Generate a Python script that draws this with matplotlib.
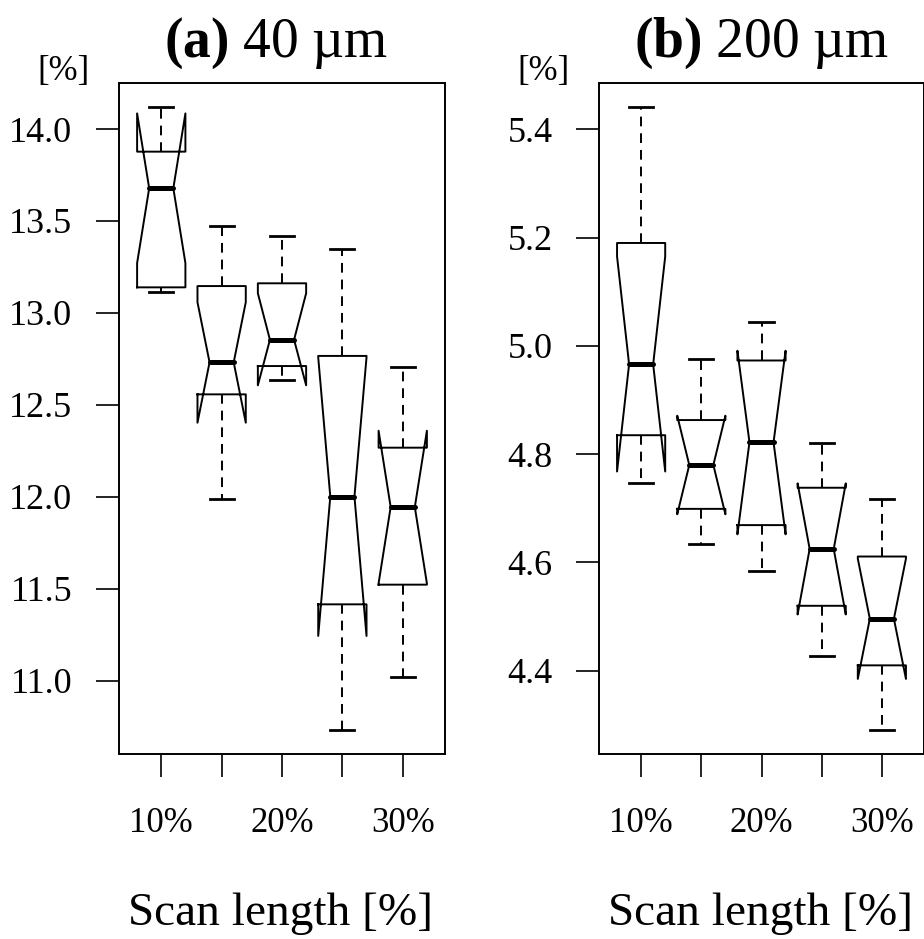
import matplotlib
matplotlib.use("Agg")
import matplotlib.pyplot as plt

plt.rcParams['font.family'] = ['Liberation Serif', 'DejaVu Serif']
plt.rcParams['mathtext.fontset'] = 'custom'
plt.rcParams['mathtext.rm'] = 'Liberation Serif'
plt.rcParams['mathtext.bf'] = 'Liberation Serif:bold'
plt.rcParams['lines.scale_dashes'] = False

# ---- data ----
positions = [1, 2, 3, 4, 5]
xtick_labels = ["10%", "", "20%", "", "30%"]

# panel (a) 40 um
a_whishi = [14.118, 13.474, 13.418, 13.349, 12.704]
a_q3 = [13.877, 13.146, 13.161, 12.766, 12.267]
a_med = [13.678, 12.731, 12.854, 12.001, 11.944]
a_q1 = [13.139, 12.557, 12.711, 11.415, 11.522]
a_whislo = [13.114, 11.990, 12.635, 10.733, 11.020]
a_cihi = [14.085, 13.058, 13.107, 12.758, 12.359]
a_cilo = [13.271, 12.403, 12.606, 11.243, 11.529]
a_yticks = [11.0, 11.5, 12.0, 12.5, 13.0, 13.5, 14.0]

# panel (b) 200 um
b_whishi = [5.441, 4.976, 5.045, 4.820, 4.717]
b_q3 = [5.190, 4.863, 4.973, 4.738, 4.611]
b_med = [4.966, 4.780, 4.822, 4.625, 4.496]
b_q1 = [4.835, 4.699, 4.669, 4.520, 4.410]
b_whislo = [4.746, 4.634, 4.585, 4.427, 4.291]
b_cihi = [5.165, 4.871, 4.991, 4.746, 4.607]
b_cilo = [4.768, 4.689, 4.652, 4.504, 4.385]
b_yticks = [4.4, 4.6, 4.8, 5.0, 5.2, 5.4]

W, H = 924, 939
fig = plt.figure(figsize=(W / 100, H / 100), dpi=100)

def px_axes(x0, x1, y0, y1):
    return fig.add_axes([x0 / W, 1 - y1 / H, (x1 - x0) / W, (y1 - y0) / H])

def make_stats(whislo, q1, med, q3, whishi, cilo, cihi):
    return [dict(whislo=whislo[i], q1=q1[i], med=med[i], q3=q3[i], whishi=whishi[i],
                 cilo=cilo[i], cihi=cihi[i], fliers=[]) for i in range(len(med))]

def draw_panel(ax, stats, ylim, yticks, yfmt):
    ax.bxp(stats, positions=positions, widths=0.8, capwidths=0.4, shownotches=True,
           showfliers=False, patch_artist=False,
           boxprops=dict(color='black', linewidth=1.4),
           whiskerprops=dict(color='black', linewidth=1.4, linestyle=(0, (7, 5))),
           capprops=dict(color='black', linewidth=2.0),
           medianprops=dict(color='black', linewidth=3.6, solid_capstyle='round'))
    ax.set_xlim(0.3, 5.7)
    ax.set_ylim(*ylim)
    ax.set_xticks(positions)
    ax.set_xticklabels(xtick_labels, fontsize=25)
    ax.set_yticks(yticks)
    ax.set_yticklabels([yfmt.format(v) for v in yticks], fontsize=26)
    ax.tick_params(axis='both', direction='out', length=16.5, width=1.2, color='black')
    ax.tick_params(axis='x', pad=22)
    ax.tick_params(axis='y', pad=17)
    for s in ax.spines.values():
        s.set_linewidth(1.4)
        s.set_color('black')

ax_a = px_axes(119, 445, 82.7, 754)
draw_panel(ax_a, make_stats(a_whislo, a_q1, a_med, a_q3, a_whishi, a_cilo, a_cihi),
           (10.601, 14.252), a_yticks, "{:.1f}")

ax_b = px_axes(599, 924, 82.7, 754)
draw_panel(ax_b, make_stats(b_whislo, b_q1, b_med, b_q3, b_whishi, b_cilo, b_cihi),
           (4.2463, 5.486), b_yticks, "{:.1f}")

# titles
fig.text(276 / W, 1 - 57 / H, r"$\mathbf{(a)}$ 40 µm", fontsize=40, ha='center', va='baseline')
fig.text(761.5 / W, 1 - 57 / H, r"$\mathbf{(b)}$ 200 µm", fontsize=40, ha='center', va='baseline')

# unit labels
fig.text(64 / W, 1 - 80 / H, "[%]", fontsize=25, ha='center', va='baseline')
fig.text(543 / W, 1 - 80 / H, "[%]", fontsize=25, ha='center', va='baseline')

# x labels
fig.text(281 / W, 1 - 925 / H, "Scan length [%]", fontsize=34, ha='center', va='baseline')
fig.text(761 / W, 1 - 925 / H, "Scan length [%]", fontsize=34, ha='center', va='baseline')

fig.savefig("out.png", dpi=100, facecolor='white')
